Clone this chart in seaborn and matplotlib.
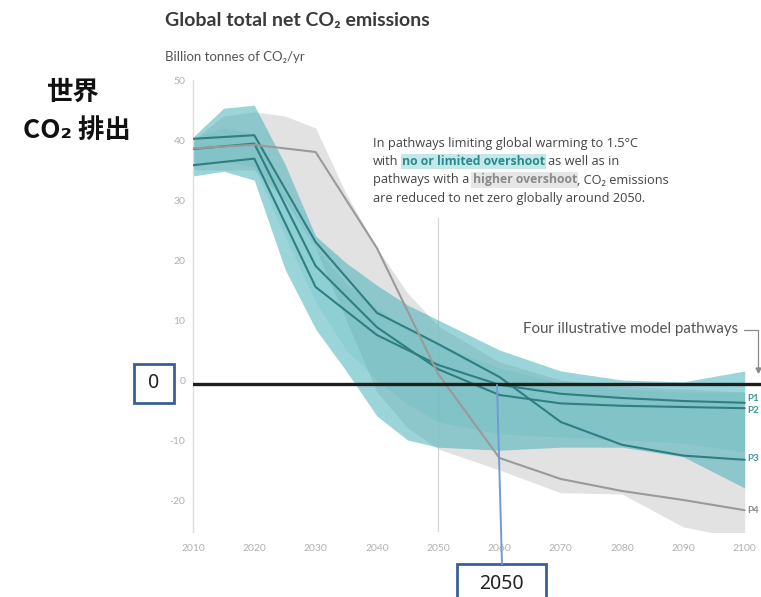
import matplotlib
matplotlib.use("Agg")
import matplotlib.pyplot as plt
import pandas as pd
import seaborn as sns
from matplotlib.patches import Rectangle
from matplotlib.lines import Line2D

# ---------------- data ----------------
years = [2010, 2020, 2030, 2040, 2050, 2060, 2070, 2080, 2090, 2100]
p1 = [35.8, 36.9, 15.5, 7.5, 2.5, -0.8, -2.3, -3.0, -3.5, -3.8]
p2 = [38.5, 39.4, 19.0, 8.8, 1.8, -2.5, -3.9, -4.3, -4.5, -4.7]
p3 = [40.2, 40.8, 23.0, 11.2, 6.0, 0.5, -7.0, -10.8, -12.6, -13.3]
p4 = [38.6, 39.2, 38.0, 22.0, 1.0, -13.0, -16.5, -18.5, -20.0, -21.7]
pathways = ["P1", "P2", "P3", "P4"]

band_years = [2010, 2015, 2020, 2025, 2030, 2035, 2040, 2045, 2050, 2060, 2070, 2080, 2090, 2100]
# 1.5C pathways with no or limited overshoot (envelope and denser core)
teal_upper = [40.5, 45.3, 45.8, 36.0, 24.0, 19.5, 15.8, 12.5, 10.0, 5.0, 1.5, 0.0, -0.3, 1.5]
teal_lower = [34.0, 34.8, 33.3, 18.5, 8.5, 1.5, -6.0, -10.0, -11.2, -11.7, -11.2, -11.2, -12.8, -18.0]
teal_core_upper = [40.3, 42.0, 41.0, 31.0, 22.0, 16.0, 12.0, 8.5, 6.0, 2.0, -0.5, -1.5, -2.0, -2.0]
teal_core_lower = [35.5, 36.5, 35.5, 24.0, 13.0, 5.0, 0.0, -4.0, -7.0, -9.0, -9.5, -10.0, -10.5, -12.0]
# pathways with a higher overshoot
grey_upper = [40.0, 44.0, 44.7, 44.0, 42.0, 31.0, 22.0, 14.5, 9.0, 3.0, 0.0, -1.0, -1.5, -2.0]
grey_lower = [35.0, 35.0, 35.0, 30.0, 22.0, 10.0, -2.0, -8.0, -11.5, -15.0, -18.8, -19.0, -24.5, -26.5]

x_ticks = [2010, 2020, 2030, 2040, 2050, 2060, 2070, 2080, 2090, 2100]
y_ticks = [-20, -10, 0, 10, 20, 30, 40, 50]
zero_marker = -0.6
net_zero_year = 2050

# ---------------- style ----------------
sns.set_theme(style="white")
plt.rcParams["font.family"] = ["Lato", "DejaVu Sans"]
plt.rcParams["axes.unicode_minus"] = False

W, H = 761, 597
fig = plt.figure(figsize=(W / 100, H / 100), dpi=100)


def fx(x):
    return x / W


def fy(y):
    return 1 - y / H


ax = fig.add_axes([fx(193), 65.2 / H, (W - 193) / W, 451.8 / H])
ax.set_xlim(2010, 2102.66)
ax.set_ylim(-25.3, 50)

TEAL_FILL = "#3fb0b6"
TEAL_LINE = "#2f7f82"
GREY_LINE = "#9a9a9a"

# guide line behind the bands
ax.plot([net_zero_year, net_zero_year], [-25.3, 27], color="#d6d6d6", lw=0.9, zorder=0.5)

ax.fill_between(band_years, grey_lower, grey_upper, color="#d6d6d6", alpha=0.7, lw=0, zorder=1)
ax.fill_between(band_years, teal_lower, teal_upper, color=TEAL_FILL, alpha=0.52, lw=0, zorder=2)
ax.fill_between(band_years, teal_core_lower, teal_core_upper, color=TEAL_FILL, alpha=0.15, lw=0, zorder=2.1)

df = pd.DataFrame({
    "year": years * 4,
    "value": p1 + p2 + p3 + p4,
    "pathway": sum([[p] * len(years) for p in pathways], []),
})
palette = {"P1": TEAL_LINE, "P2": TEAL_LINE, "P3": TEAL_LINE, "P4": GREY_LINE}
sns.lineplot(data=df, x="year", y="value", hue="pathway", palette=palette,
             legend=False, ax=ax, linewidth=1.5, estimator=None, zorder=3)
ax.set_xlabel("")
ax.set_ylabel("")

# net-zero marker line
ax.axhline(zero_marker, color="#1e1e1e", lw=2.4, zorder=5)

# axes styling
for s in ["top", "right", "bottom"]:
    ax.spines[s].set_visible(False)
ax.spines["left"].set_color("#dddddd")
ax.spines["left"].set_linewidth(1.0)
ax.set_xticks(x_ticks)
ax.set_yticks(y_ticks)
ax.tick_params(axis="both", colors="#d0d0d0", labelcolor="#b0b0b0", labelsize=7.5,
               length=3.6, width=0.8, direction="out")
ax.tick_params(axis="x", pad=5)
ax.tick_params(axis="y", pad=2)

# pathway labels at the right edge
label_offsets = {"P1": 3, "P2": -2, "P3": 1, "P4": 0}
for name, vals in zip(pathways, [p1, p2, p3, p4]):
    ax.annotate(name, xy=(2100, vals[-1]), xytext=(2, label_offsets[name]),
                textcoords="offset points", va="center", ha="left", fontsize=7,
                fontweight="bold", color="#3a9a9c" if name != "P4" else "#8a8a8a",
                annotation_clip=False)

# titles
fig.text(fx(165), fy(21), "Global total net CO₂ emissions", fontsize=14, fontweight="bold",
         color="#3a3a3a", va="center", ha="left")
fig.text(fx(165), fy(57), "Billion tonnes of CO₂/yr", fontsize=9.5, color="#555555",
         va="center", ha="left")

# explanatory paragraph with highlighted phrases
renderer = fig.canvas.get_renderer()
open_sans = ["Open Sans", "DejaVu Sans"]
body = dict(fontsize=9.2, color="#444444", family=open_sans)
teal_hl = dict(fontsize=8.8, color="#2a8a8c", fontweight="bold", family=open_sans,
               bbox=dict(facecolor="#c4e8ea", edgecolor="none", pad=1.0))
grey_hl = dict(fontsize=8.8, color="#8a8a8a", fontweight="bold", family=open_sans,
               bbox=dict(facecolor="#e6e6e6", edgecolor="none", pad=1.0))

probe1 = fig.text(0, 0, "a a", **body)
probe2 = fig.text(0, 0, "aa", **body)
space_w = probe1.get_window_extent(renderer).width - probe2.get_window_extent(renderer).width
probe1.remove()
probe2.remove()


def text_line(x_px, y_px, runs):
    x = x_px
    for txt, kw in runs:
        lead = len(txt) - len(txt.lstrip(" "))
        trail = len(txt) - len(txt.rstrip(" "))
        core = txt.strip(" ")
        x += lead * space_w
        t = fig.text(fx(x), fy(y_px), core, va="center", ha="left", **kw)
        x += t.get_window_extent(renderer).width + trail * space_w


text_line(373, 143, [("In pathways limiting global warming to 1.5°C", body)])
text_line(373, 161.5, [("with ", body), ("no or limited overshoot", teal_hl), (" as well as in", body)])
text_line(373, 180, [("pathways with a ", body), ("higher overshoot", grey_hl), (", CO₂ emissions", body)])
text_line(373, 198.5, [("are reduced to net zero globally around 2050.", body)])

# illustrative pathways callout
fig.text(fx(738), fy(329), "Four illustrative model pathways", fontsize=10.8, color="#555555",
         va="center", ha="right")
fig.add_artist(Line2D([fx(744), fx(758), fx(758)], [fy(330), fy(330), fy(368)],
                      color="#8a8a8a", lw=0.9, transform=fig.transFigure))
fig.add_artist(Line2D([fx(758)], [fy(370)], marker="v", markersize=3.5, color="#8a8a8a",
                      transform=fig.transFigure))

# left-hand heading
cjk = ["Noto Sans CJK JP", "DejaVu Sans"]
fig.text(fx(72), fy(92), "世界", fontsize=19, fontweight="bold", family=cjk,
         color="#111111", ha="center", va="center")
fig.text(fx(77), fy(130), "CO₂ 排出", fontsize=19, fontweight="bold", family=cjk,
         color="#111111", ha="center", va="center")

# value call-outs
BOX = "#3b5f95"
fig.add_artist(Rectangle((fx(134), fy(403)), 40 / W, 39 / H, transform=fig.transFigure,
                         facecolor="white", edgecolor=BOX, lw=2.0))
fig.text(fx(154), fy(383.5), "0", fontsize=14, family=["Noto Sans", "DejaVu Sans"],
         color="#222222", ha="center", va="center")

fig.add_artist(Line2D([fx(497), fx(502)], [fy(385), fy(564)], color="#6f9bd6", lw=1.4,
                      transform=fig.transFigure, zorder=6))
fig.add_artist(Rectangle((fx(457), fy(605)), 89 / W, 41 / H, transform=fig.transFigure,
                         facecolor="white", edgecolor=BOX, lw=2.0))
fig.text(fx(501), fy(584), "2050", fontsize=14, family=["Noto Sans", "DejaVu Sans"],
         color="#222222", ha="center", va="center")

fig.savefig("out.png", dpi=100)
